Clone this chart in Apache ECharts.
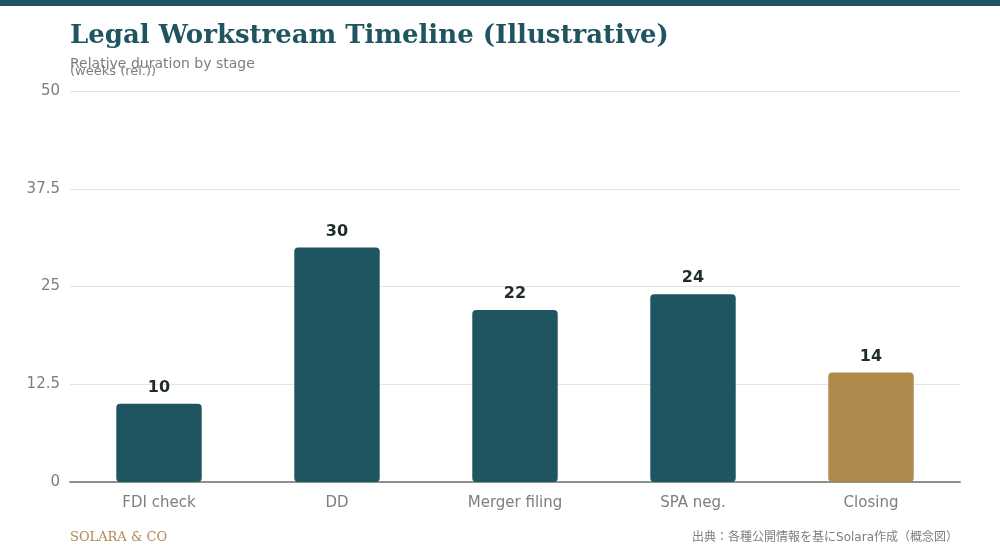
<!DOCTYPE html>
<html><head><meta charset="utf-8">
<script src="https://cdn.jsdelivr.net/npm/echarts@6/dist/echarts.min.js"></script>
<style>html,body{margin:0;padding:0;background:#fff}#c{width:1000px;height:560px}</style>
</head><body><div id="c"></div>
<script>
const categories = ['FDI check', 'DD', 'Merger filing', 'SPA neg.', 'Closing'];
const values = [10, 30, 22, 24, 14];
const barColors = ['#1f5560', '#1f5560', '#1f5560', '#1f5560', '#b0894d'];
const yTicks = [0, 12.5, 25, 37.5, 50];

const chart = echarts.init(document.getElementById('c'), null, {renderer: 'canvas'});
chart.setOption({
  backgroundColor: '#ffffff',
  animation: false,
  graphic: [
    {type: 'rect', left: 0, top: 0, shape: {width: 1000, height: 6}, style: {fill: '#1f5560'}},
    {type: 'text', left: 70, top: 65, style: {text: '(weeks (rel.))', font: '13px "DejaVu Sans", sans-serif', fill: '#7a807c'}},
    {type: 'text', left: 70, top: 531, style: {text: 'SOLARA & CO', font: '13px "DejaVu Serif", serif', fill: '#b08a50'}},
    {type: 'text', right: 42, top: 532, style: {text: '出典：各種公開情報を基にSolara作成（概念図）', font: '12px "DejaVu Sans", "Noto Sans CJK JP", sans-serif', fill: '#7a807c'}}
  ],
  title: {
    text: 'Legal Workstream Timeline (Illustrative)',
    subtext: 'Relative duration by stage',
    left: 70, top: 23, itemGap: 8, padding: 0,
    textStyle: {fontFamily: '"DejaVu Serif", serif', fontWeight: 'bold', fontSize: 26, color: '#1f5560'},
    subtextStyle: {fontFamily: '"DejaVu Sans", sans-serif', fontSize: 14, color: '#7a807c'}
  },
  grid: {left: 70, right: 40, top: 91, bottom: 78, containLabel: false, outerBoundsMode: 'none'},
  xAxis: {
    type: 'category', data: categories,
    axisLine: {lineStyle: {color: '#8a918b', width: 2}},
    axisTick: {show: false},
    axisLabel: {color: '#7a807c', fontSize: 15, margin: 14, fontFamily: '"DejaVu Sans", sans-serif'}
  },
  yAxis: {
    type: 'value', min: 0, max: 50, interval: 12.5,
    axisLine: {show: false}, axisTick: {show: false},
    axisLabel: {color: '#7a807c', fontSize: 15, margin: 10, fontFamily: '"DejaVu Sans", sans-serif',
      formatter: v => yTicks.includes(v) ? String(v) : ''},
    splitLine: {lineStyle: {color: '#ebe4d6', width: 1}}
  },
  series: [{
    type: 'bar', barWidth: '48%',
    data: values.map((v, i) => ({value: v, itemStyle: {color: barColors[i]}})),
    itemStyle: {borderRadius: [4, 4, 4, 4]},
    label: {show: true, position: 'top', distance: 8, color: '#1f2d2a', fontWeight: 'bold', fontSize: 16, fontFamily: '"DejaVu Sans", sans-serif'}
  }]
});
</script></body></html>
